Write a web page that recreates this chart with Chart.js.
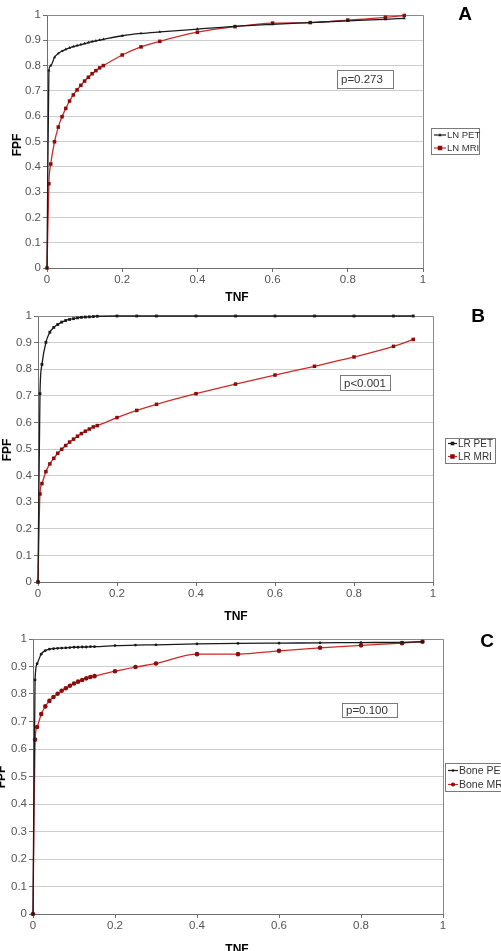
<!DOCTYPE html>
<html>
<head>
<meta charset="utf-8">
<script src="https://cdn.jsdelivr.net/npm/chart.js@4.4.1/dist/chart.umd.min.js"></script>
<style>
  html, body { margin: 0; padding: 0; background: #fff; }
  #wrap { position: relative; width: 501px; height: 951px; overflow: hidden; background: #fff; }
  canvas { position: absolute; left: 0; }
</style>
</head>
<body>
<div id="wrap">
  <canvas id="cA" width="501" height="305" style="top:0px"></canvas>
  <canvas id="cB" width="501" height="320" style="top:305px"></canvas>
  <canvas id="cC" width="501" height="326" style="top:625px"></canvas>
</div>
<script>
// ---------- data ----------
const tnf = [0, 0.005, 0.01, 0.02, 0.03, 0.04, 0.05, 0.06, 0.07, 0.08, 0.09, 0.10, 0.11, 0.12, 0.13, 0.14, 0.15, 0.2, 0.25, 0.3, 0.4, 0.5, 0.6, 0.7, 0.8, 0.9, 0.95];

const lnPet = [0, 0.780, 0.800, 0.833, 0.848, 0.857, 0.864, 0.870, 0.875, 0.879, 0.883, 0.887, 0.891, 0.895, 0.898, 0.901, 0.904, 0.918, 0.927, 0.933, 0.944, 0.955, 0.963, 0.970, 0.977, 0.983, 0.987];
const lnMri = [0, 0.333, 0.411, 0.499, 0.557, 0.598, 0.631, 0.660, 0.684, 0.704, 0.722, 0.739, 0.754, 0.768, 0.780, 0.791, 0.800, 0.842, 0.874, 0.896, 0.932, 0.954, 0.968, 0.970, 0.980, 0.991, 0.998];

const lrPet = [0, 0.708, 0.818, 0.901, 0.939, 0.957, 0.968, 0.977, 0.983, 0.987, 0.990, 0.993, 0.995, 0.996, 0.997, 0.998, 0.999, 1.0, 1.0, 1.0, 1.0, 1.0, 1.0, 1.0, 1.0, 1.0, 1.0];
const lrMri = [0, 0.331, 0.370, 0.415, 0.444, 0.465, 0.484, 0.499, 0.513, 0.526, 0.537, 0.548, 0.558, 0.567, 0.575, 0.583, 0.588, 0.618, 0.645, 0.668, 0.708, 0.744, 0.778, 0.811, 0.846, 0.886, 0.912];

const bonePet = [0, 0.851, 0.910, 0.945, 0.958, 0.963, 0.965, 0.966, 0.967, 0.968, 0.969, 0.970, 0.970, 0.971, 0.971, 0.972, 0.972, 0.976, 0.978, 0.979, 0.982, 0.984, 0.985, 0.986, 0.987, 0.988, 0.990];
const boneMri = [0, 0.634, 0.680, 0.727, 0.755, 0.775, 0.789, 0.801, 0.812, 0.821, 0.830, 0.838, 0.845, 0.851, 0.857, 0.862, 0.865, 0.883, 0.898, 0.911, 0.945, 0.945, 0.957, 0.968, 0.977, 0.985, 0.990];

const xTitle = "TNF";
const yTitle = "FPF";
const panelLetters = ["A", "B", "C"];
const pValues = ["p=0.273", "p<0.001", "p=0.100"];
const seriesNamesA = ["LN PET", "LN MRI"];
const seriesNamesB = ["LR PET", "LR MRI"];
const seriesNamesC = ["Bone PET", "Bone MRI"];

// ---------- helpers ----------
const FONT = '"Liberation Sans", Arial, Helvetica, sans-serif';
const BLACK = '#1a1a1a';
const REDLINE = '#cc2a2a';
const REDMARK = '#8e0b0b';

function pts(xs, ys) { return xs.map((x, i) => ({ x: x, y: ys[i] })); }
function fmt(v) { return String(Math.round(v * 10) / 10); }

function drawMarker(ctx, style, x, y, r, color) {
  ctx.fillStyle = color;
  ctx.beginPath();
  if (style === 'rect') { ctx.rect(x - r, y - r, 2 * r, 2 * r); }
  else if (style === 'triangle') { ctx.moveTo(x, y - r * 1.2); ctx.lineTo(x + r, y + r * 0.7); ctx.lineTo(x - r, y + r * 0.7); ctx.closePath(); }
  else { ctx.arc(x, y, r, 0, Math.PI * 2); }
  ctx.fill();
}

const decor = {
  id: 'decor',
  beforeDatasetsDraw(chart) {
    const ctx = chart.ctx, ca = chart.chartArea;
    ctx.save();
    ctx.strokeStyle = '#8a8a8a';
    ctx.lineWidth = 1;
    ctx.beginPath();
    ctx.moveTo(ca.left, Math.round(ca.top) + 0.5);
    ctx.lineTo(Math.round(ca.right) + 0.5, Math.round(ca.top) + 0.5);
    ctx.lineTo(Math.round(ca.right) + 0.5, ca.bottom);
    ctx.stroke();
    ctx.restore();
  },
  afterDraw(chart, args, o) {
    const ctx = chart.ctx;
    ctx.save();
    // axis titles
    ctx.fillStyle = '#000';
    ctx.font = 'bold 12px ' + FONT;
    ctx.textAlign = 'center';
    ctx.textBaseline = 'middle';
    ctx.fillText(xTitle, o.xt[0], o.xt[1]);
    ctx.save();
    ctx.translate(o.yt[0], o.yt[1]);
    ctx.rotate(-Math.PI / 2);
    ctx.fillText(yTitle, 0, 0);
    ctx.restore();
    // panel letter
    ctx.font = 'bold 19px ' + FONT;
    ctx.fillText(o.letter, o.lp[0], o.lp[1]);
    // p-value box
    const pb = o.pb;
    ctx.fillStyle = '#fff';
    ctx.fillRect(pb[0], pb[1], pb[2], pb[3]);
    ctx.strokeStyle = '#7a7a7a';
    ctx.lineWidth = 1;
    ctx.strokeRect(pb[0] + 0.5, pb[1] + 0.5, pb[2], pb[3]);
    ctx.fillStyle = '#333';
    ctx.font = '11.5px ' + FONT;
    ctx.textAlign = 'left';
    ctx.fillText(o.ptext, pb[0] + 4, pb[1] + pb[3] / 2 + 1);
    // legend
    const lg = o.lg;
    ctx.fillStyle = '#fff';
    ctx.fillRect(lg.x, lg.y, lg.w, lg.h);
    ctx.strokeStyle = '#7a7a7a';
    ctx.strokeRect(lg.x + 0.5, lg.y + 0.5, lg.w, lg.h);
    ctx.font = lg.fs + 'px ' + FONT;
    chart.data.datasets.forEach((ds, i) => {
      const ry = lg.rows[i];
      ctx.strokeStyle = ds.borderColor;
      ctx.lineWidth = 1.2;
      ctx.beginPath();
      ctx.moveTo(lg.sx0, ry); ctx.lineTo(lg.sx1, ry); ctx.stroke();
      drawMarker(ctx, ds.pointStyle, (lg.sx0 + lg.sx1) / 2, ry, ds.pointRadius * 0.9, ds.pointBackgroundColor);
      ctx.fillStyle = '#333';
      ctx.fillText(ds.label, lg.tx, ry + 0.5);
    });
    ctx.restore();
  }
};

function makeChart(id, names, pet, mri, cfg) {
  return new Chart(document.getElementById(id), {
    type: 'scatter',
    data: {
      datasets: [
        { label: names[0], data: pts(tnf, pet), showLine: true, borderColor: BLACK, borderWidth: 1.3,
          pointStyle: cfg.petStyle, pointRadius: cfg.petR, pointBackgroundColor: BLACK, pointBorderWidth: 0,
          cubicInterpolationMode: 'monotone', clip: 6 },
        { label: names[1], data: pts(tnf, mri), showLine: true, borderColor: REDLINE, borderWidth: 1.3,
          pointStyle: cfg.mriStyle, pointRadius: cfg.mriR, pointBackgroundColor: REDMARK, pointBorderWidth: 0,
          cubicInterpolationMode: 'monotone', clip: 6 }
      ]
    },
    options: {
      responsive: false,
      animation: false,
      devicePixelRatio: 1,
      layout: { padding: { left: 0, top: cfg.top, right: cfg.right, bottom: 0 } },
      plugins: {
        legend: { display: false },
        tooltip: { enabled: false },
        decor: cfg.decor
      },
      scales: {
        x: {
          type: 'linear', min: 0, max: 1,
          ticks: { stepSize: 0.2, color: '#555', font: { family: FONT, size: 11.5 }, padding: 1, maxRotation: 0, callback: fmt },
          grid: { drawOnChartArea: false, drawTicks: true, tickLength: 4, tickColor: '#6e6e6e' },
          border: { color: '#6e6e6e', width: 1 },
          afterFit: s => { s.height = cfg.xh; }
        },
        y: {
          type: 'linear', min: 0, max: 1,
          ticks: { stepSize: 0.1, color: '#555', font: { family: FONT, size: 11.5 }, padding: 2, callback: fmt },
          grid: { color: '#cdcdcd', tickColor: '#6e6e6e', tickLength: 4, lineWidth: 1 },
          border: { color: '#6e6e6e', width: 1 },
          afterFit: s => { s.width = cfg.yw; }
        }
      }
    },
    plugins: [decor]
  });
}

// Panel A (canvas top 0)
makeChart('cA', seriesNamesA, lnPet, lnMri, {
  top: 15, right: 78, xh: 37, yw: 47,
  petStyle: 'triangle', petR: 1.8, mriStyle: 'rect', mriR: 2.5,
  decor: {
    xt: [237, 298], yt: [18, 145], letter: panelLetters[0], lp: [465, 15],
    pb: [337, 70, 56, 18], ptext: pValues[0],
    lg: { x: 431, y: 128, w: 48, h: 26, fs: 9.5, rows: [135, 148], sx0: 434, sx1: 446, tx: 447 }
  }
});

// Panel B (canvas top 305)
makeChart('cB', seriesNamesB, lrPet, lrMri, {
  top: 11, right: 68, xh: 43, yw: 38,
  petStyle: 'rect', petR: 2, mriStyle: 'rect', mriR: 2.5,
  decor: {
    xt: [236, 312], yt: [8, 145], letter: panelLetters[1], lp: [478, 12],
    pb: [340, 70, 50, 15], ptext: pValues[1],
    lg: { x: 445, y: 133, w: 50, h: 25, fs: 10, rows: [138.5, 151.5], sx0: 448, sx1: 457, tx: 458 }
  }
});

// Panel C (canvas top 625)
makeChart('cC', seriesNamesC, bonePet, boneMri, {
  top: 14, right: 58, xh: 37, yw: 33,
  petStyle: 'circle', petR: 1.4, mriStyle: 'circle', mriR: 2.3,
  decor: {
    xt: [237, 325], yt: [2, 152], letter: panelLetters[2], lp: [487, 17],
    pb: [342, 78, 55, 14], ptext: pValues[2],
    lg: { x: 445, y: 138, w: 70, h: 28, fs: 10.5, rows: [145.5, 159.5], sx0: 448, sx1: 458, tx: 459 }
  }
});
</script>
</body>
</html>
